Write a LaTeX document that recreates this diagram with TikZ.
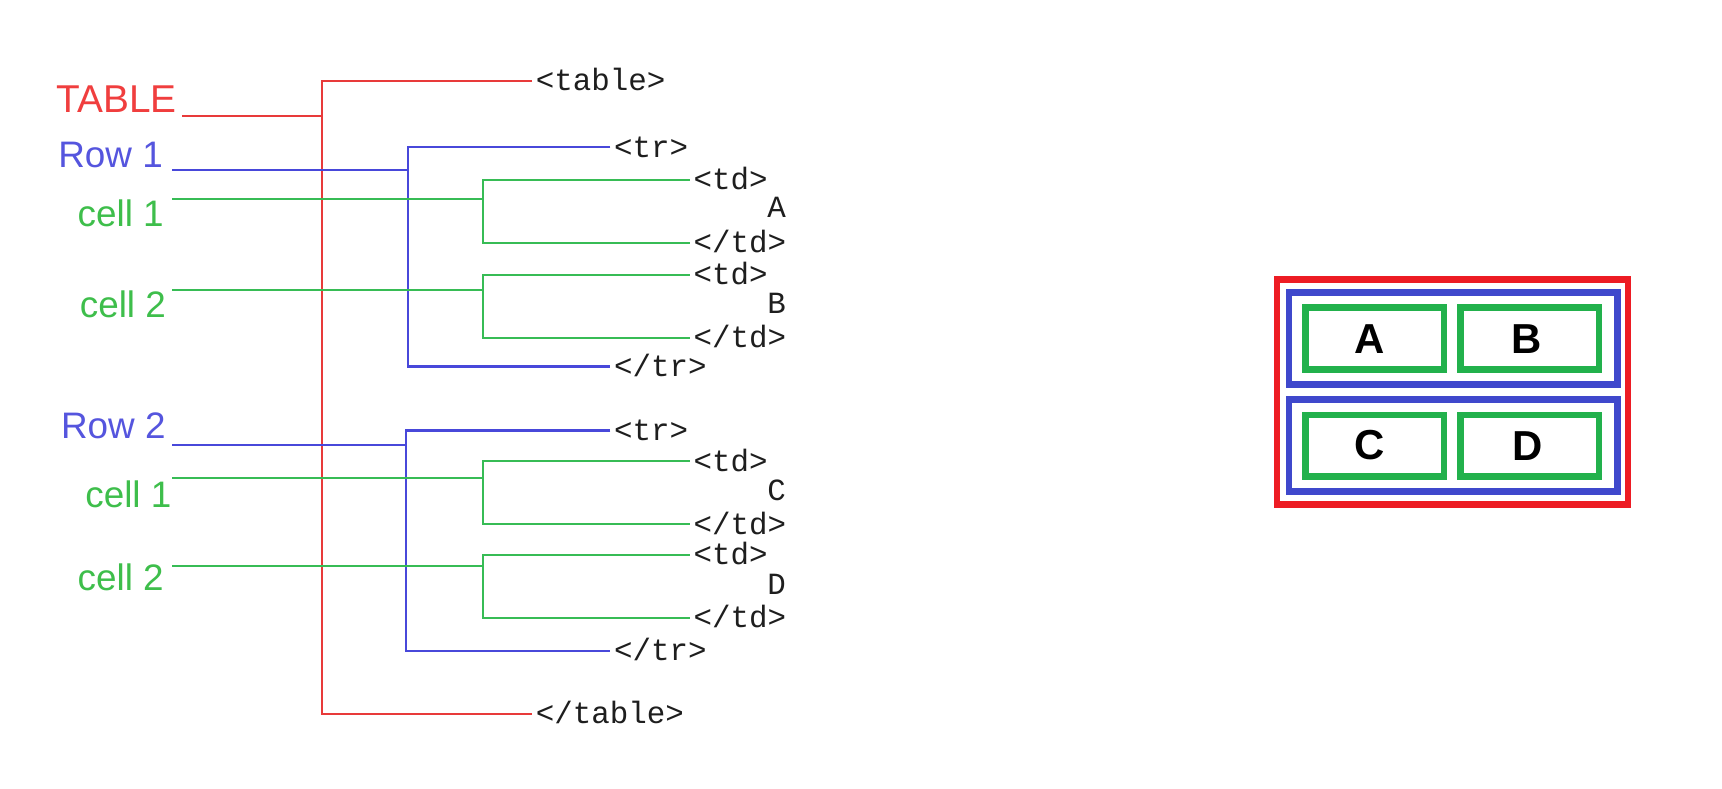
\documentclass[tikz,border=0pt]{standalone}
\usepackage{fontspec}
\setmainfont{Liberation Sans}
\newfontfamily\monof{Liberation Mono}
\definecolor{pred}{RGB}{237,28,36}
\definecolor{pblue}{RGB}{63,72,204}
\definecolor{pgreen}{RGB}{34,177,76}
\definecolor{lred}{RGB}{232,58,58}
\definecolor{lblue}{RGB}{72,72,218}
\definecolor{lgreen}{RGB}{55,188,85}
\definecolor{tred}{RGB}{240,62,62}
\definecolor{tblue}{RGB}{85,85,222}
\definecolor{tgreen}{RGB}{62,190,75}
\definecolor{tagc}{RGB}{30,30,30}
\begin{document}
\begin{tikzpicture}[x=0.2mm,y=-0.2mm,
  tag/.style={font=\monof\fontsize{15.9}{18}\selectfont, text=tagc, anchor=west,
    inner xsep=0.6mm, inner ysep=0pt, text height=10pt, text depth=0pt},
  letter/.style={font=\monof\fontsize{15.9}{18}\selectfont, text=tagc, anchor=center,
    inner sep=0pt, text height=10pt, text depth=0pt},
  biglab/.style={anchor=base west, inner sep=0pt, font=\fontsize{20}{24}\selectfont},
  lab/.style={anchor=base west, inner sep=0pt, font=\fontsize{19}{22}\selectfont},
  redl/.style={draw=lred, line width=1.1pt},
  bluel/.style={draw=lblue, line width=1.1pt},
  greenl/.style={draw=lgreen, line width=1.1pt},
  cellbox/.style={draw=pgreen, line width=1.2mm, minimum width=25.04mm,
    minimum height=11.22mm, inner sep=0pt},
  boxletter/.style={font=\bfseries\fontsize{21.6}{24}\selectfont, inner sep=0pt,
    text height=15.5pt, text depth=0pt, anchor=center}
]
\useasboundingbox[fill=white] (0,0) rectangle (1560,714);

% ---------- labels ----------
\node[biglab, text=tred]   (lTable) at (51,102)   {TABLE};
\node[lab, text=tblue]     (lRow1)  at (52.5,152) {Row 1};
\node[lab, text=tgreen]    (lC11)   at (70,205.5) {cell 1};
\node[lab, text=tgreen]    (lC12)   at (72,288)   {cell 2};
\node[lab, text=tblue]     (lRow2)  at (55,397)   {Row 2};
\node[lab, text=tgreen]    (lC21)   at (77,460)   {cell 1};
\node[lab, text=tgreen]    (lC22)   at (70,535)   {cell 2};

% ---------- tags ----------
\node[tag] (tTable)  at (482,73.5) {<table>};
\node[tag] (tTr1)    at (553,133.5) {<tr>};
\node[tag] (tTd11)   at (625,163) {<td>};
\node[letter] (vA)   at (703.5,188.5) {A};
\node[tag] (tTd11e)  at (625,220) {</td>};
\node[tag] (tTd12)   at (625,249) {<td>};
\node[letter] (vB)   at (703.5,275) {B};
\node[tag] (tTd12e)  at (625,306) {</td>};
\node[tag] (tTr1e)   at (553,332) {</tr>};
\node[tag] (tTr2)    at (553,390) {<tr>};
\node[tag] (tTd21)   at (625,418) {<td>};
\node[letter] (vC)   at (703.5,444.5) {C};
\node[tag] (tTd21e)  at (625,475) {</td>};
\node[tag] (tTd22)   at (625,503) {<td>};
\node[letter] (vD)   at (703.5,530) {D};
\node[tag] (tTd22e)  at (625,560) {</td>};
\node[tag] (tTr2e)   at (553,590) {</tr>};
\node[tag] (tTablee) at (482,647) {</table>};

% ---------- connector coordinates ----------
\coordinate (sTable) at (165,105);   \coordinate (jTable) at (292,105);
\coordinate (sRow1)  at (156,154);   \coordinate (jRow1)  at (370,154);
\coordinate (sC11)   at (156,180.5); \coordinate (jC11)   at (437.5,180.5);
\coordinate (sC12)   at (156,262.5); \coordinate (jC12)   at (437.5,262.5);
\coordinate (sRow2)  at (156,403);   \coordinate (jRow2)  at (368,403);
\coordinate (sC21)   at (156,433);   \coordinate (jC21)   at (437.5,433);
\coordinate (sC22)   at (156,513);   \coordinate (jC22)   at (437.5,513);

% red
\draw[redl] (sTable) -- (jTable);
\draw[redl] (tTable.west) -| (jTable) |- (tTablee.west);
% blue
\draw[bluel] (sRow1) -- (jRow1);
\draw[bluel] (tTr1.west) -| (jRow1) |- (tTr1e.west);
\draw[bluel] (sRow2) -- (jRow2);
\draw[bluel] (tTr2.west) -| (jRow2) |- (tTr2e.west);
% green
\draw[greenl] (sC11) -- (jC11);
\draw[greenl] (tTd11.west) -| (jC11) |- (tTd11e.west);
\draw[greenl] (sC12) -- (jC12);
\draw[greenl] (tTd12.west) -| (jC12) |- (tTd12e.west);
\draw[greenl] (sC21) -- (jC21);
\draw[greenl] (tTd21.west) -| (jC21) |- (tTd21e.west);
\draw[greenl] (sC22) -- (jC22);
\draw[greenl] (tTd22.west) -| (jC22) |- (tTd22e.west);

% ---------- rendered table ----------
\begin{scope}[xshift=-0.8mm]
\draw[draw=pred, line width=1.2mm] (1161,253) rectangle (1479,457);
\draw[draw=pblue, line width=1.2mm] (1171.6,265.2) rectangle (1469.3,348.6);
\draw[draw=pblue, line width=1.2mm] (1171.6,362.1) rectangle (1469.3,445.5);
\node[cellbox] (bA) at (1249.4,306.85) {};
\node[cellbox] (bB) at (1389.85,306.85) {};
\node[cellbox] (bC) at (1249.4,403.85) {};
\node[cellbox] (bD) at (1389.85,403.85) {};
\node[boxletter] (xA) at (1245,306.5) {A};
\node[boxletter] (xB) at (1387,306.5) {B};
\node[boxletter] (xC) at (1245,403) {C};
\node[boxletter] (xD) at (1388,403.5) {D};
\end{scope}
\end{tikzpicture}
\end{document}
